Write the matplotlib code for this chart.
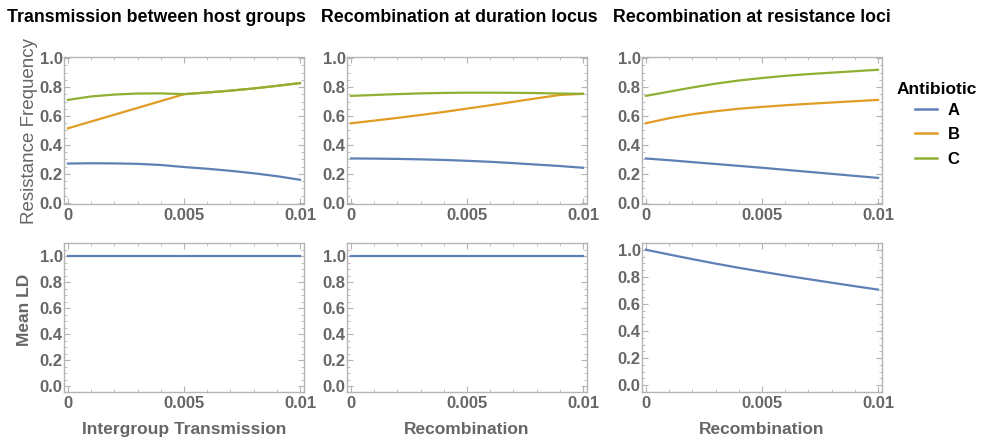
import numpy as np
import matplotlib.pyplot as plt
from matplotlib.ticker import MultipleLocator, FixedLocator
from matplotlib.lines import Line2D

plt.rcParams['font.family'] = ['Liberation Sans', 'DejaVu Sans']
plt.rcParams['font.weight'] = 'bold'
plt.rcParams['axes.labelweight'] = 'bold'

# x grid (rate)
x = [0, 0.001, 0.002, 0.003, 0.004, 0.005, 0.006, 0.007, 0.008, 0.009, 0.01]

# Transmission between host groups
trans_A = [0.272, 0.274, 0.273, 0.270, 0.262, 0.248, 0.236, 0.222, 0.205, 0.185, 0.160]
trans_B = [0.515, 0.562, 0.609, 0.656, 0.703, 0.750, 0.762, 0.775, 0.790, 0.808, 0.827]
trans_C = [0.711, 0.735, 0.748, 0.755, 0.756, 0.751, 0.762, 0.775, 0.790, 0.808, 0.827]
trans_LD = [1.0] * 11

# Recombination at duration locus
dur_A = [0.307, 0.306, 0.304, 0.301, 0.297, 0.291, 0.284, 0.275, 0.265, 0.255, 0.243]
dur_B = [0.550, 0.568, 0.587, 0.607, 0.628, 0.651, 0.674, 0.698, 0.722, 0.745, 0.753]
dur_C = [0.739, 0.745, 0.751, 0.756, 0.759, 0.761, 0.761, 0.760, 0.758, 0.755, 0.753]
dur_LD = [1.0] * 11

# Recombination at resistance loci
res_A = [0.307, 0.295, 0.282, 0.269, 0.256, 0.243, 0.229, 0.215, 0.201, 0.187, 0.173]
res_B = [0.550, 0.585, 0.612, 0.633, 0.650, 0.663, 0.674, 0.684, 0.693, 0.702, 0.711]
res_C = [0.739, 0.768, 0.797, 0.823, 0.845, 0.862, 0.877, 0.889, 0.899, 0.909, 0.919]
res_LD = [1.0, 0.965, 0.931, 0.898, 0.867, 0.838, 0.810, 0.783, 0.757, 0.731, 0.706]

titles = ["Transmission between host groups", "Recombination at duration locus",
          "Recombination at resistance loci"]
xlabels = ["Intergroup Transmission", "Recombination", "Recombination"]
antibiotics = ["A", "B", "C"]
colors = ["#5E81B5", "#E19C24", "#8FB032"]

freq = [[trans_A, trans_B, trans_C], [dur_A, dur_B, dur_C], [res_A, res_B, res_C]]
ld = [trans_LD, dur_LD, res_LD]

gray = "#666666"
frame = "#b4b4b4"

fig = plt.figure(figsize=(9.84, 4.4), dpi=100)

W, H = 984.0, 440.0
lefts = [64, 347, 642]
width = 240
title_cx = [156, 459, 752]


def style(ax, ylim):
    ax.set_xlim(-0.00017, 0.01017)
    ax.set_ylim(*ylim)
    for s in ax.spines.values():
        s.set_color(frame)
        s.set_linewidth(1.0)
    ax.xaxis.set_major_locator(FixedLocator([0, 0.005, 0.01]))
    ax.xaxis.set_minor_locator(MultipleLocator(0.001))
    ax.yaxis.set_major_locator(MultipleLocator(0.2))
    ax.yaxis.set_minor_locator(MultipleLocator(0.05))
    ax.set_xticklabels(["0", "0.005", "0.01"])
    ax.set_yticklabels(["%.1f" % v for v in ax.get_yticks()])
    ax.tick_params(which='both', direction='in', top=True, right=True,
                   color=frame, labelcolor=gray, labelsize=12, pad=3)
    ax.tick_params(which='major', length=4, width=0.8)
    ax.tick_params(which='minor', length=2, width=0.6)
    ax.tick_params(axis='y', pad=1)


for i in range(3):
    ax = fig.add_axes([lefts[i] / W, 1 - 204 / H, width / W, 147 / H])
    for j in range(3):
        ax.plot(x, freq[i][j], color=colors[j], lw=1.6)
    style(ax, (-0.007, 1.007))
    if i == 0:
        ax.set_ylabel("Resistance Frequency", color=gray, fontsize=13.5,
                      fontweight='normal', labelpad=1)
    fig.text(title_cx[i] / W, 1 - 18 / H, titles[i], ha='center', va='center',
             fontsize=12.8, color='black', fontweight='bold')

    ax2 = fig.add_axes([lefts[i] / W, 1 - 392 / H, width / W, 149 / H])
    ax2.plot(x, ld[i], color=colors[0], lw=1.6)
    style(ax2, (-0.046, 1.1) if i < 2 else (-0.05, 1.05))
    if i == 0:
        ax2.set_ylabel("Mean LD", color=gray, fontsize=12.5, labelpad=1)
        ax2.yaxis.set_label_coords(-0.135, 0.55)
    ax2.set_xlabel(xlabels[i], color=gray, fontsize=12.5, labelpad=8)

# legend
handles = [Line2D([], [], color=c, lw=1.8) for c in colors]
leg = fig.legend(handles, antibiotics, loc='upper left', bbox_to_anchor=(897 / W, 1 - 82 / H),
                 frameon=False, title="Antibiotic", handlelength=1.35, handletextpad=0.6,
                 labelspacing=0.58, fontsize=12, title_fontsize=12.5,
                 borderaxespad=0, borderpad=0)
leg.get_title().set_fontweight('bold')
leg._legend_box.sep = 4
for t in leg.get_texts():
    t.set_color('black')
    t.set_fontweight('bold')

fig.savefig("out.png", dpi=100)
